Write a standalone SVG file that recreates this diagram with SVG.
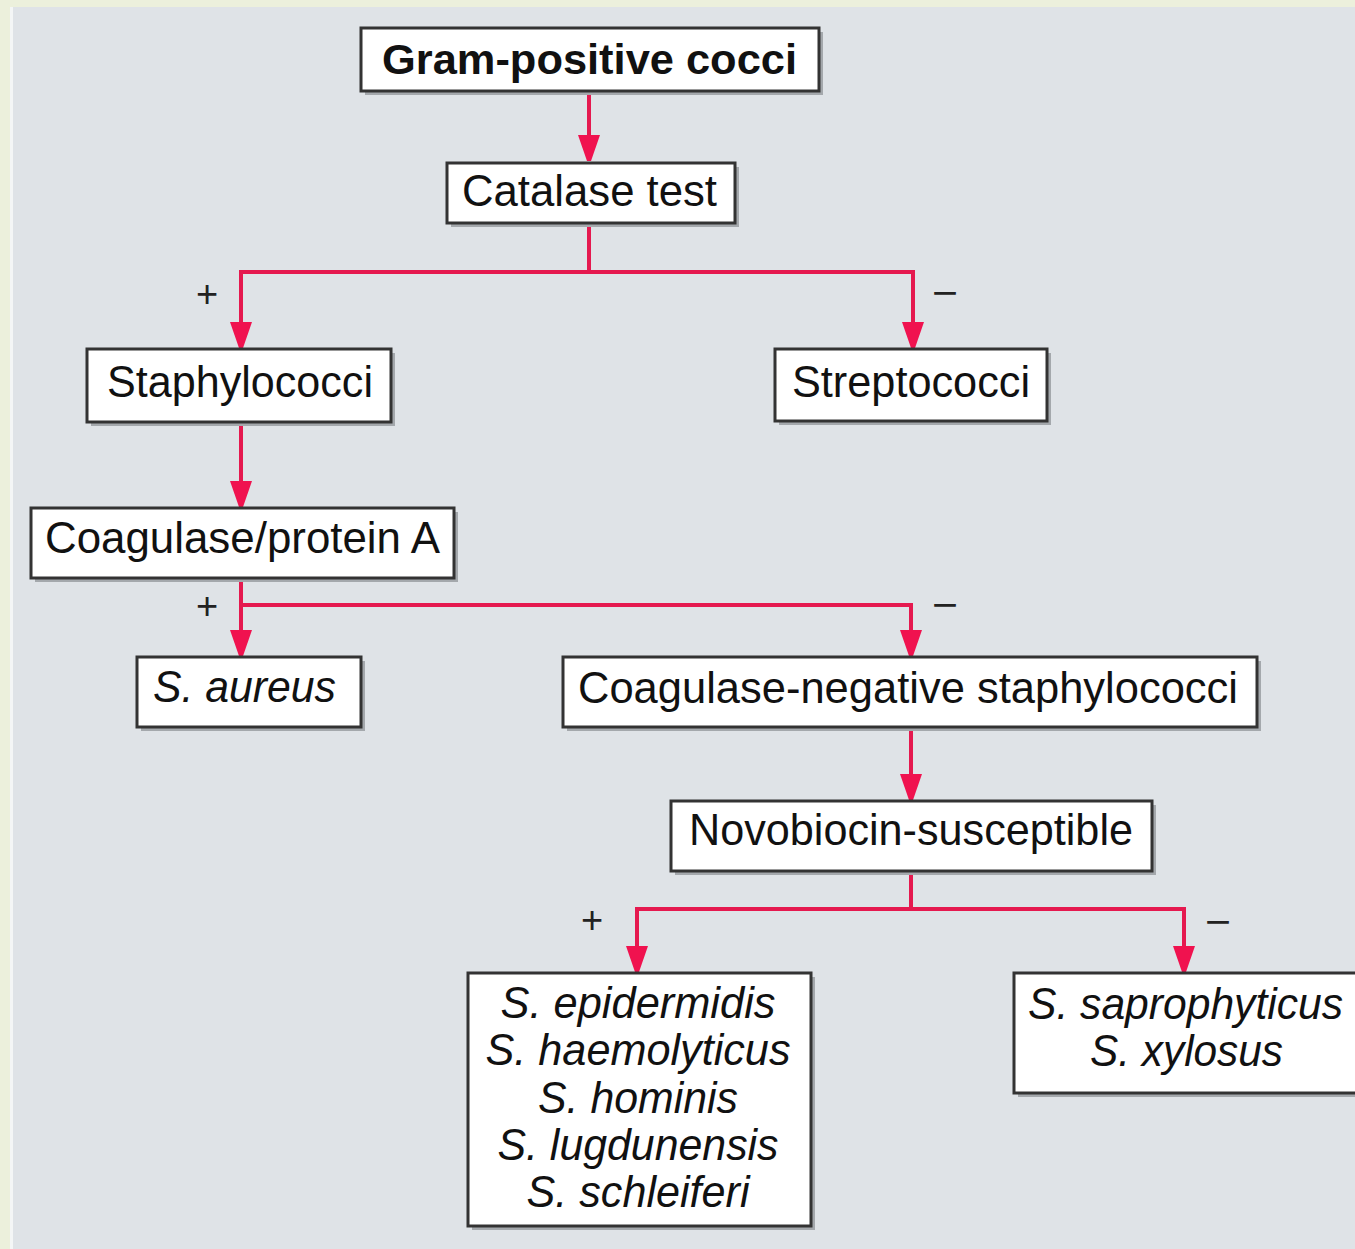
<svg xmlns="http://www.w3.org/2000/svg" width="1355" height="1249" viewBox="0 0 1355 1249">
<style>
.sh{fill:#a4a8ac}
.bx{fill:#ffffff;stroke:#333333;stroke-width:3}
.t{font-family:"Liberation Sans",Arial,sans-serif;font-size:44px;fill:#111111;text-anchor:middle}
.b{font-weight:bold;font-size:43px}
.i{font-style:italic}
.lb{font-family:"Liberation Sans",Arial,sans-serif;font-size:38px;fill:#222222;text-anchor:middle}
.c{fill:none;stroke:#E5194F;stroke-width:4}
</style>
<defs>
<marker id="arr" viewBox="0 0 26 22" refX="20" refY="11" markerWidth="26" markerHeight="22" markerUnits="userSpaceOnUse" orient="auto">
<path d="M0,0 L26,9 L26,13 L0,22 Z" fill="#F0124F"/>
</marker>
</defs>
<rect x="0" y="0" width="1355" height="1249" fill="#ECF0DC"/>
<rect x="10" y="7" width="1345" height="1242" fill="#F4F6F6"/>
<rect x="13" y="7" width="1342" height="1242" fill="#DFE3E7"/>

<g id="connectors">
<path class="c" d="M589,92 V155" marker-end="url(#arr)"/>
<path class="c" d="M589,224 V272 H241 V342" marker-end="url(#arr)"/>
<path class="c" d="M589,272 H913 V342" marker-end="url(#arr)"/>
<path class="c" d="M241,423 V501" marker-end="url(#arr)"/>
<path class="c" d="M241,579 V650" marker-end="url(#arr)"/>
<path class="c" d="M241,605 H911 V650" marker-end="url(#arr)"/>
<path class="c" d="M911,728 V794" marker-end="url(#arr)"/>
<path class="c" d="M911,872 V909 H637 V966" marker-end="url(#arr)"/>
<path class="c" d="M911,909 H1184 V966" marker-end="url(#arr)"/>
</g>

<g id="labels">
<text class="lb" x="207" y="307">+</text>
<text class="lb" x="945" y="306" textLength="26" lengthAdjust="spacingAndGlyphs">−</text>
<text class="lb" x="207" y="619">+</text>
<text class="lb" x="945" y="618" textLength="26" lengthAdjust="spacingAndGlyphs">−</text>
<text class="lb" x="592" y="933">+</text>
<text class="lb" x="1218" y="935" textLength="26" lengthAdjust="spacingAndGlyphs">−</text>
</g>

<g id="n-gram">
<rect class="sh" x="365" y="32" width="458" height="63"/>
<rect class="bx" x="361" y="28" width="458" height="63"/>
<text class="t b" x="589.5" y="74" textLength="415" lengthAdjust="spacingAndGlyphs">Gram-positive cocci</text>
</g>
<g id="n-catalase">
<rect class="sh" x="451" y="167" width="288" height="60"/>
<rect class="bx" x="447" y="163" width="288" height="60"/>
<text class="t" x="589.5" y="206" textLength="255" lengthAdjust="spacingAndGlyphs">Catalase test</text>
</g>
<g id="n-staph">
<rect class="sh" x="91" y="353" width="304" height="73"/>
<rect class="bx" x="87" y="349" width="304" height="73"/>
<text class="t" x="240" y="397" textLength="266" lengthAdjust="spacingAndGlyphs">Staphylococci</text>
</g>
<g id="n-strep">
<rect class="sh" x="779" y="353" width="272" height="72"/>
<rect class="bx" x="775" y="349" width="272" height="72"/>
<text class="t" x="911" y="397" textLength="238" lengthAdjust="spacingAndGlyphs">Streptococci</text>
</g>
<g id="n-coag">
<rect class="sh" x="35" y="512" width="423" height="70"/>
<rect class="bx" x="31" y="508" width="423" height="70"/>
<text class="t" x="242.5" y="553" textLength="395" lengthAdjust="spacingAndGlyphs">Coagulase/protein A</text>
</g>
<g id="n-aureus">
<rect class="sh" x="141" y="661" width="224" height="70"/>
<rect class="bx" x="137" y="657" width="224" height="70"/>
<text class="t i" x="244.5" y="702" textLength="183" lengthAdjust="spacingAndGlyphs">S. aureus</text>
</g>
<g id="n-cons">
<rect class="sh" x="567" y="661" width="694" height="70"/>
<rect class="bx" x="563" y="657" width="694" height="70"/>
<text class="t" x="908" y="703" textLength="660" lengthAdjust="spacingAndGlyphs">Coagulase-negative staphylococci</text>
</g>
<g id="n-novo">
<rect class="sh" x="675" y="805" width="481" height="70"/>
<rect class="bx" x="671" y="801" width="481" height="70"/>
<text class="t" x="911" y="845" textLength="444" lengthAdjust="spacingAndGlyphs">Novobiocin-susceptible</text>
</g>
<g id="n-susc">
<rect class="sh" x="472" y="977" width="343" height="253"/>
<rect class="bx" x="468" y="973" width="343" height="253"/>
<text class="t i" x="638" y="1018" textLength="275" lengthAdjust="spacingAndGlyphs">S. epidermidis</text>
<text class="t i" x="638" y="1065" textLength="305" lengthAdjust="spacingAndGlyphs">S. haemolyticus</text>
<text class="t i" x="638" y="1113" textLength="200" lengthAdjust="spacingAndGlyphs">S. hominis</text>
<text class="t i" x="638" y="1160" textLength="281" lengthAdjust="spacingAndGlyphs">S. lugdunensis</text>
<text class="t i" x="638" y="1207" textLength="223" lengthAdjust="spacingAndGlyphs">S. schleiferi</text>
</g>
<g id="n-resist">
<rect class="sh" x="1018" y="977" width="360" height="120"/>
<rect class="bx" x="1014" y="973" width="360" height="120"/>
<text class="t i" x="1185.5" y="1019" textLength="315" lengthAdjust="spacingAndGlyphs">S. saprophyticus</text>
<text class="t i" x="1186.5" y="1066" textLength="193" lengthAdjust="spacingAndGlyphs">S. xylosus</text>
</g>
</svg>
